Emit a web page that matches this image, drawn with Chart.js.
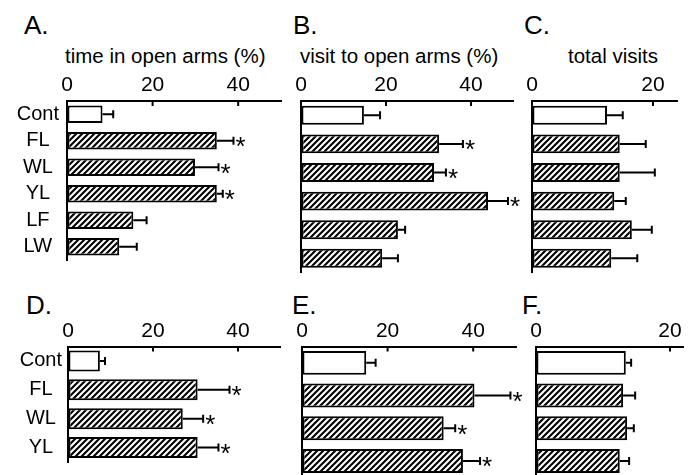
<!DOCTYPE html>
<html>
<head>
<meta charset="utf-8">
<script src="https://cdn.jsdelivr.net/npm/chart.js@4/dist/chart.umd.min.js"></script>
<style>
  html, body { margin: 0; padding: 0; background: #fff; overflow: hidden; }
  body { width: 696px; height: 475px; position: relative; font-family: "Liberation Sans", Arial, sans-serif; color: #000; }
  canvas { position: absolute; }
  .letra { position: absolute; font-size: 26px; line-height: 26px; }
  .titulo { position: absolute; font-size: 20.5px; line-height: 24px; white-space: nowrap; }
</style>
</head>
<body>
<div class="letra" style="left:24px;top:12px">A.</div>
<div class="letra" style="left:293px;top:12px">B.</div>
<div class="letra" style="left:524px;top:12px">C.</div>
<div class="letra" style="left:26px;top:292px">D.</div>
<div class="letra" style="left:292px;top:292px">E.</div>
<div class="letra" style="left:522px;top:292px">F.</div>
<div class="titulo" style="left:65px;top:44px">time in open arms (%)</div>
<div class="titulo" style="left:300px;top:44px">visit to open arms (%)</div>
<div class="titulo" style="left:568px;top:44px">total visits</div>

<canvas id="panelA" width="290" height="280" style="left:0;top:0"></canvas>
<canvas id="panelB" width="230" height="280" style="left:290px;top:0"></canvas>
<canvas id="panelC" width="176" height="280" style="left:520px;top:0"></canvas>
<canvas id="panelD" width="290" height="200" style="left:0;top:280px"></canvas>
<canvas id="panelE" width="240" height="200" style="left:290px;top:280px"></canvas>
<canvas id="panelF" width="176" height="200" style="left:520px;top:280px"></canvas>

<script>
// grupos (fila superior: 6, fila inferior: solo se ven 4)
var grupos = ['Cont', 'FL', 'WL', 'YL', 'LF', 'LW'];
var gruposAbajo = ['Cont', 'FL', 'WL', 'YL'];

// A. tiempo en brazos abiertos (%)
var valoresA = [8.3, 35.0, 29.9, 35.0, 15.5, 12.2];
var erroresA = [2.5, 3.9, 5.5, 1.4, 3.1, 4.1];
var signifA = [false, true, true, true, false, false];

// B. visitas a brazos abiertos (%)
var valoresB = [14.8, 32.5, 31.3, 44.0, 22.8, 19.1];
var erroresB = [3.8, 5.6, 2.8, 4.7, 1.7, 3.7];
var signifB = [false, true, true, true, false, false];

// C. visitas totales
var valoresC = [12.4, 14.5, 14.5, 13.6, 16.5, 13.1];
var erroresC = [2.6, 4.3, 5.8, 1.9, 3.3, 4.3];
var signifC = [false, false, false, false, false, false];

// D, E, F (segunda fila)
var valoresD = [7.5, 30.5, 27.0, 30.5];
var erroresD = [1.2, 7.5, 4.8, 4.9];
var signifD = [false, true, true, true];

var valoresE = [15.0, 40.3, 33.1, 37.6];
var erroresE = [2.2, 8.4, 2.7, 4.0];
var signifE = [false, true, true, true];

var valoresF = [13.4, 13.0, 13.6, 12.5];
var erroresF = [0.8, 1.8, 1.0, 1.4];
var signifF = [false, false, false, false];

var fuente = '"Liberation Sans", Arial, sans-serif';

// patron de rayas diagonales para las barras
function crearRayado() {
    var n = 6;
    var c = document.createElement('canvas');
    c.width = n;
    c.height = n;
    var g = c.getContext('2d');
    g.fillStyle = '#fff';
    g.fillRect(0, 0, n, n);
    g.strokeStyle = '#000';
    g.lineWidth = 2.1;
    g.beginPath();
    g.moveTo(0, n); g.lineTo(n, 0);
    g.moveTo(-2, 2); g.lineTo(2, -2);
    g.moveTo(n - 2, n + 2); g.lineTo(n + 2, n - 2);
    g.stroke();
    return g.createPattern(c, 'repeat');
}
var rayado = crearRayado();

function dibujarPanel(id, etiquetas, valores, errores, signif, conf) {
    var colores = valores.map(function (v, i) { return i === 0 ? '#fff' : rayado; });

    // barras de error, asteriscos y marcas hacia adentro del eje
    var extras = {
        id: 'extras' + id,
        afterDatasetsDraw: function (chart) {
            var ctx = chart.ctx;
            var xs = chart.scales.x;
            var meta = chart.getDatasetMeta(0);
            ctx.save();
            ctx.strokeStyle = '#000';
            ctx.fillStyle = '#000';
            ctx.lineWidth = 2;
            meta.data.forEach(function (bar, i) {
                var xe = xs.getPixelForValue(valores[i] + errores[i]);
                ctx.beginPath();
                ctx.moveTo(bar.x, bar.y);
                ctx.lineTo(xe, bar.y);
                ctx.moveTo(xe, bar.y - 4);
                ctx.lineTo(xe, bar.y + 4);
                ctx.stroke();
                if (signif[i]) {
                    ctx.font = '26px ' + fuente;
                    ctx.textAlign = 'left';
                    ctx.textBaseline = 'alphabetic';
                    ctx.fillText('*', xe + 2, bar.y + 0.55 * 26);
                }
            });
            var top = chart.chartArea.top;
            xs.ticks.forEach(function (t) {
                var px = xs.getPixelForValue(t.value);
                ctx.beginPath();
                ctx.moveTo(px, top);
                ctx.lineTo(px, top + 5);
                ctx.stroke();
            });
            ctx.restore();
        }
    };

    new Chart(document.getElementById(id), {
        type: 'bar',
        data: {
            labels: etiquetas,
            datasets: [{
                data: valores,
                backgroundColor: colores,
                borderColor: '#000',
                borderWidth: 2,
                borderSkipped: false,
                barPercentage: conf.barra,
                categoryPercentage: 1
            }]
        },
        options: {
            indexAxis: 'y',
            responsive: false,
            animation: false,
            devicePixelRatio: 1,
            layout: { padding: { left: 0, top: 0, right: conf.derecha, bottom: conf.abajo } },
            plugins: { legend: { display: false }, tooltip: { enabled: false } },
            scales: {
                x: {
                    position: 'top',
                    min: 0,
                    max: conf.max,
                    ticks: { stepSize: 20, includeBounds: false, padding: 3, color: '#000', font: { family: fuente, size: 21 } },
                    grid: { drawOnChartArea: false, drawTicks: false },
                    border: { color: '#000', width: 2 },
                    afterFit: function (s) { s.height = conf.alto; }
                },
                y: {
                    ticks: { display: conf.nombres, autoSkip: false, crossAlign: 'center', padding: conf.sep, color: '#000', font: { family: fuente, size: 20 } },
                    grid: { drawOnChartArea: false, drawTicks: false },
                    border: { color: '#000', width: 2 },
                    afterFit: function (s) { s.width = conf.ancho; }
                }
            }
        },
        plugins: [extras]
    });
}

dibujarPanel('panelA', grupos, valoresA, erroresA, signifA, { max: 50, ancho: 67, alto: 101, derecha: 9, abajo: 7.4, barra: 0.66, nombres: true, sep: 8 });
dibujarPanel('panelB', grupos, valoresB, erroresB, signifB, { max: 50, ancho: 11, alto: 101, derecha: 6.5, abajo: 7.4, barra: 0.66, nombres: false, sep: 0 });
dibujarPanel('panelC', grupos, valoresC, erroresC, signifC, { max: 24, ancho: 12, alto: 101, derecha: 18.8, abajo: 7.4, barra: 0.66, nombres: false, sep: 0 });
dibujarPanel('panelD', gruposAbajo, valoresD, erroresD, signifD, { max: 50, ancho: 68, alto: 66.5, derecha: 9.5, abajo: 2.7, barra: 0.73, nombres: true, sep: 6 });
dibujarPanel('panelE', gruposAbajo, valoresE, erroresE, signifE, { max: 50, ancho: 12, alto: 66.5, derecha: 14, abajo: 2.7, barra: 0.73, nombres: false, sep: 0 });
dibujarPanel('panelF', gruposAbajo, valoresF, erroresF, signifF, { max: 22, ancho: 16, alto: 66.5, derecha: 12.6, abajo: 2.7, barra: 0.73, nombres: false, sep: 0 });
</script>
</body>
</html>
